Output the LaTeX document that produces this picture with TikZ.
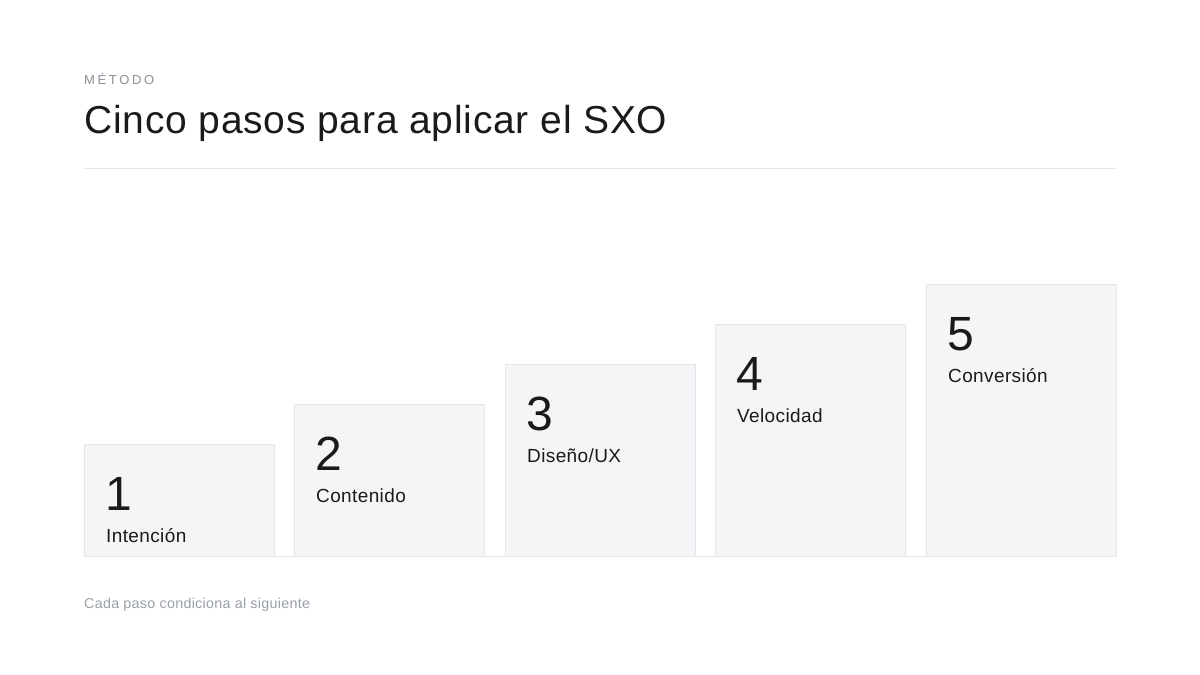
\documentclass[tikz,border=0pt]{standalone}
\usepackage{fontspec}
\setmainfont{Liberation Sans}
\definecolor{boxfill}{HTML}{F3F5F7}
\definecolor{boxline}{HTML}{E3E6EA}
\definecolor{rulec}{HTML}{E5E7EB}
\definecolor{ink}{HTML}{1A1A1A}
\definecolor{muted}{HTML}{8B9099}
\definecolor{foot}{HTML}{9AA0A8}
\tikzset{
  stepbox/.style={draw=boxline, fill=boxfill, line width=0.8pt},
  numtxt/.style={anchor=base west, inner sep=0pt, text=ink, font=\fontsize{48}{48}\selectfont},
  labtxt/.style={anchor=base west, inner sep=0pt, text=ink, font=\fontsize{19}{19}\selectfont\addfontfeatures{LetterSpace=2}},
}
\begin{document}
\begin{tikzpicture}[x=1pt,y=-1pt]
\useasboundingbox (0,0) rectangle (1200,675);
\fill[white] (0,0) rectangle (1200,675);
\node[anchor=base west, inner sep=0pt, text=muted, font=\fontsize{13}{13}\selectfont] (kicker) at (84,84) {M\kern2.6pt É\kern2.6pt T\kern2.6pt O\kern2.6pt D\kern2.6pt O};
\node[anchor=base west, inner sep=0pt, text=ink, font=\fontsize{39}{39}\selectfont\addfontfeatures{LetterSpace=2}] (title) at (84,133) {Cinco pasos para aplicar el SXO};
\draw[rulec, line width=0.8pt] (84,168) coordinate (r1) -- (1116,168) coordinate (r2);
\foreach \i/\x/\t/\lab in {1/84/444/{Intención}, 2/294/404/{Contenido}, 3/505/364/{Diseño/UX}, 4/715/324/{Velocidad}, 5/926/284/{Conversión}}{
  \draw[stepbox] (\x,\t) rectangle (\x+190,556);
  \node[numtxt] (n\i) at (\x+21,\t+66) {\i};
  \node[labtxt] (l\i) at (\x+22,\t+98) {\lab};
}
\draw[boxline, line width=0.8pt] (84,556) coordinate (b1) -- (1116,556) coordinate (b2);
\node[anchor=base west, inner sep=0pt, text=foot, font=\fontsize{14.3}{14.3}\selectfont\addfontfeatures{LetterSpace=2}] (footer) at (84,608) {Cada paso condiciona al siguiente};
\end{tikzpicture}
\end{document}
